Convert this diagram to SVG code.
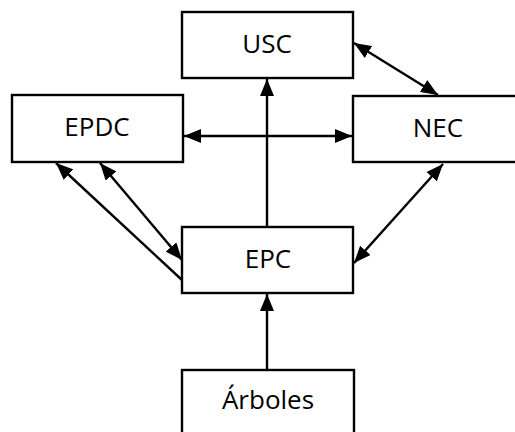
<svg xmlns="http://www.w3.org/2000/svg" width="515" height="432" viewBox="0 0 515 432">
<style>
.box{fill:#fff;stroke:#000;stroke-width:2.4}
.lbl{font-family:"Open Sans","Liberation Sans",sans-serif;font-size:26px;fill:#000;text-anchor:middle}
.c{stroke:#000;stroke-width:2.4;fill:none}
</style>
<defs>
<marker id="ah" viewBox="0 0 17 14" refX="17" refY="7" markerWidth="17" markerHeight="14" markerUnits="userSpaceOnUse" orient="auto-start-reverse">
<path d="M0,0 L17,7 L0,14 Z" fill="#000"/>
</marker>
</defs>
<rect width="515" height="432" fill="#fff"/>
<g id="connectors">
<line class="c" x1="267" y1="227" x2="267" y2="79" marker-end="url(#ah)"/>
<line class="c" x1="267" y1="370" x2="267" y2="294" marker-end="url(#ah)"/>
<line class="c" x1="184" y1="136" x2="352" y2="136" marker-start="url(#ah)" marker-end="url(#ah)"/>
<line class="c" x1="354" y1="43" x2="438" y2="95" marker-start="url(#ah)" marker-end="url(#ah)"/>
<line class="c" x1="443" y1="164" x2="354" y2="263" marker-start="url(#ah)" marker-end="url(#ah)"/>
<line class="c" x1="100" y1="163" x2="182" y2="260" marker-start="url(#ah)" marker-end="url(#ah)"/>
<line class="c" x1="182" y1="280" x2="56" y2="163" marker-end="url(#ah)"/>
</g>
<g id="usc"><rect class="box" x="182" y="12" width="171" height="66"/><text class="lbl" x="267" y="53">USC</text></g>
<g id="epdc"><rect class="box" x="12" y="95" width="171" height="67"/><text class="lbl" x="97" y="136">EPDC</text></g>
<g id="nec"><rect class="box" x="353" y="96" width="180" height="66"/><text class="lbl" x="438" y="137">NEC</text></g>
<g id="epc"><rect class="box" x="182" y="227" width="171" height="66"/><text class="lbl" x="268" y="268">EPC</text></g>
<g id="arboles"><rect class="box" x="182" y="370" width="172" height="80"/><text class="lbl" x="268" y="409">Árboles</text></g>
</svg>
